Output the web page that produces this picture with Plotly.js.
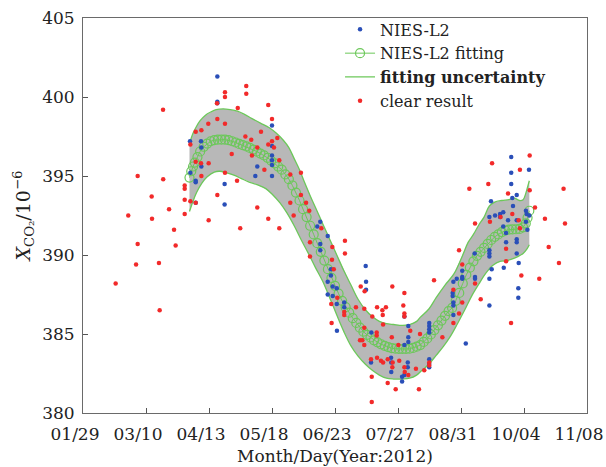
<!DOCTYPE html>
<html><head><meta charset="utf-8">
<script src="https://cdn.plot.ly/plotly-3.0.1.min.js"></script>
<style>html,body{margin:0;padding:0;background:#fff}#chart{width:606px;height:467px}</style>
</head><body><div id="chart"></div>
<script>
// x values are day-of-year 2012
const tickLabels = ['01/29','03/10','04/13','05/18','06/23','07/27','08/31','10/04','11/08'];

const redDay = [74.1,121.0,121.0,109.0,109.0,104.5,116.2,104.7,99.6,109.0,95.7,92.5,89.5,120.5,123.8,112.8,95.5,99.8,92.5,109.0,95.7,115.8,59.8,74.2,86.3,86.3,67.7,104.7,86.3,89.5,92.5,77.5,54.5,67.9,86.3,99.8,117.6,80.3,59.8,81.2,58.9,71.8,47.4,72.2,
133.4,135.5,129.3,138.5,133.4,135.5,136.6,127.2,124.2,139.6,131.2,145.8,151.8,151.8,145.8,154.7,156.5,127.2,133.4,139.6,147.7,163.3,169.5,176.6,176.6,156.9,156.9,169.3,
170.3,185.5,203.3,210.1,187.7,172.3,168.9,182.8,187.5,194.7,199.7,197.7,209.5,176.2,176.2,197.9,210.1,210.1,169.1,192.0,198.1,187.5,213.4,194.5,194.5,185.1,203.0,187.5,186.4,206.7,194.7,191.3,196.9,198.1,200.7,203.5,203.3,207.2,210.1,210.3,216.6,191.7,200.7,205.2,218.3,191.7,212.3,
218.9,224.1,224.1,221.3,226.8,231.5,237.7,240.9,242.7,237.7,249.9,253.1,242.7,240.9,249.9,258.3,264.3,274.5,267.4,267.4,276.0,270.2,286.1,297.2,291.4,289.3,300.6,280.7,259.5,275.2,246.7,257.4,299.8,268.5,280.7,283.7,270.9,275.2];
const redVal = [399.2,400.7,400.2,400.3,400.0,399.6,399.3,398.6,398.3,398.3,397.9,397.8,397.0,397.5,397.3,396.4,395.8,395.8,395.9,395.2,395.0,394.7,395.0,394.8,394.4,394.2,393.7,393.8,393.5,393.4,393.3,392.9,392.5,392.3,392.6,392.2,391.7,391.6,390.7,390.6,389.4,389.5,388.2,386.5,
399.5,398.6,397.8,397.4,397.0,397.2,396.8,396.8,396.3,396.0,395.4,395.1,395.2,393.8,393.3,393.3,392.8,393.0,392.3,391.7,392.5,391.7,390.5,390.9,390.1,390.8,389.9,389.7,
389.1,388.0,388.0,387.6,387.7,387.3,386.9,386.7,386.6,386.7,386.7,386.5,386.8,386.4,386.2,386.2,386.3,386.1,385.7,386.1,385.6,385.4,385.2,385.1,384.9,384.6,384.8,384.3,384.6,384.3,383.5,383.4,383.3,383.2,383.4,383.2,382.9,383.3,382.9,382.6,382.8,382.3,381.9,381.5,381.5,380.7,382.4,
385.0,383.2,383.0,382.7,388.4,384.8,385.7,386.3,387.0,387.8,388.2,387.2,389.4,390.3,392.0,392.1,392.4,392.2,390.4,389.6,388.7,385.7,388.5,389.5,390.5,392.3,392.0,396.3,395.8,395.4,394.2,394.5,394.2,393.9,394.1,393.0,392.6,391.7];

const blueDay = [104.7,104.7,104.7,89.3,95.5,95.7,95.7,89.5,92.5,92.5,108.8,92.5,108.8,135.5,135.5,135.5,135.5,135.5,127.2,126.1,135.5,162.7,161.0,166.9,162.7,162.7,
188.3,168.7,168.7,166.9,169.7,172.0,188.5,188.5,166.9,169.7,172.0,176.2,176.2,172.1,191.5,210.1,212.3,212.3,212.3,210.1,191.3,202.6,202.7,212.0,212.0,202.7,208.8,208.8,210.1,
224.1,224.1,224.1,224.1,224.1,224.1,224.1,244.7,237.7,237.7,237.7,237.3,237.3,237.7,239.6,242.7,242.7,242.7,249.7,249.9,249.9,258.0,258.0,258.0,258.0,258.0,259.3,267.4,267.4,266.1,273.4,273.4,274.5,274.3,274.3,273.4,
258.0,264.0,268.5,270.3,280.3,270.3,270.3,273.4,270.9,258.9,271.3,264.0,261.2,265.8,278.6,279.0,280.5,278.6,273.4,265.8,279.4];
const blueVal = [401.3,399.7,399.6,397.2,397.2,396.8,395.6,395.2,394.7,394.6,394.5,393.3,393.2,398.2,396.9,396.3,396.0,395.7,395.6,395.0,395.0,392.1,391.8,391.2,390.7,390.3,
389.3,389.1,388.7,388.3,388.0,387.9,388.3,387.8,387.5,387.4,386.9,387.0,386.7,385.2,385.1,386.1,385.5,384.8,384.5,384.3,383.2,383.5,383.2,383.2,382.9,382.6,382.3,382.0,382.4,
385.7,385.5,385.3,385.1,383.4,383.1,382.9,384.4,387.0,386.8,386.2,387.6,387.4,388.3,388.5,389.0,388.6,388.5,390.1,388.6,388.5,390.3,390.1,389.9,388.5,386.8,389.1,390.8,391.4,389.2,391.0,390.8,389.5,387.9,387.3,390.1,
392.4,392.4,392.2,396.2,395.4,395.2,394.5,393.8,393.6,393.4,393.1,392.6,392.5,392.7,392.8,392.6,392.5,392.1,392.2,391.8,391.6];

const fitDay = [89,90,91,92,93.5,95,97,99,101,103,105,107,109,111,113,115,117,119,121,123,125,127,129,131,133,135,137,139,141,143,145,147,149,151,153,155,157,159,161,163,165,167,169,171,173,175,177,179,181,183,185,187,189,191,193,195,197,199,201,203,205,207,209,211,213,215,217,219,221,223,225,227,229,231,233,235,237,239,241,243,245,247,249,251,253,255,257,259,261,263,265,267,269,271,273,275,277,278.5,279.5,280.5];
const fitVal = [394.9,395.3,395.6,395.85,396.2,396.55,396.85,397.05,397.2,397.27,397.3,397.3,397.3,397.27,397.2,397.12,397.03,396.95,396.87,396.78,396.67,396.55,396.42,396.3,396.15,395.98,395.8,395.6,395.4,395.1,394.8,394.4,393.95,393.45,392.9,392.4,391.85,391.3,390.75,390.2,389.65,389.1,388.55,388.05,387.55,387.1,386.7,386.35,386.0,385.7,385.4,385.15,384.95,384.78,384.6,384.47,384.35,384.25,384.17,384.1,384.07,384.05,384.05,384.05,384.07,384.12,384.2,384.3,384.5,384.72,384.97,385.25,385.55,385.85,386.15,386.45,386.65,387.1,387.6,388.2,388.75,389.2,389.6,389.95,390.2,390.45,390.7,390.95,391.15,391.3,391.45,391.55,391.6,391.62,391.63,391.65,391.75,392.0,392.35,392.8];

const upperDay = [89,91,93,95,98,101,104,108,112,116,120,124,129,134,138,142,145,148,151,154,157,160,164,168,172,176,180,184,188,192,196,200,204,209,213,217,219,224,228,233,238,243,246,249,252,255,258,261,265,269,272,275,277,278.5,279.5,280.5];
const upperVal = [397.05,397.7,398.15,398.5,398.85,399.05,399.2,399.25,399.2,399.1,398.9,398.65,398.35,398.05,397.7,397.25,396.8,396.1,395.4,394.55,393.75,393.0,392.0,391.0,390.0,389.0,388.1,387.2,386.55,386.1,385.8,385.65,385.6,385.55,385.6,385.8,386.05,386.6,387.3,388.1,388.8,390.0,390.8,391.3,391.9,392.4,393.1,393.35,393.45,393.5,393.6,393.45,393.5,393.9,394.3,394.7];

const lowerDay = [89,91,93,96,99,103,106,110,114,118,122,127,132,136,140,144,148,152,156,160,164,168,172,176,180,184,188,192,196,200,204,209,213,217,220,224,228,232,236,240,244,248,252,256,260,264,268,271,274,277,279,280.5];
const lowerVal = [392.75,393.4,393.95,394.55,394.95,395.25,395.3,395.2,395.05,394.85,394.65,394.45,394.2,393.8,393.3,392.65,391.85,390.95,390.1,389.2,388.35,387.3,386.2,385.15,384.25,383.6,383.1,382.7,382.4,382.2,382.15,382.15,382.2,382.4,382.7,383.1,383.65,384.2,384.85,385.65,386.5,387.4,388.15,388.85,389.35,389.6,389.65,389.75,389.9,390.1,390.35,390.65];

const GREEN = '#6cc85a';
const FONT = 'DejaVu Serif';
const x0 = 29, x1 = 313;
const tickVals = tickLabels.map((_, i) => x0 + i * (x1 - x0) / (tickLabels.length - 1));

const traces = [
  {x: upperDay.concat(lowerDay.slice().reverse()), y: upperVal.concat(lowerVal.slice().reverse()),
   mode: 'lines', fill: 'toself', fillcolor: '#b8b8b8', line: {width: 0}, showlegend: false, hoverinfo: 'skip'},
  {x: upperDay, y: upperVal, mode: 'lines', line: {color: GREEN, width: 1.3, shape: 'spline'},
   name: '<b>fitting uncertainty</b>', legendrank: 3},
  {x: lowerDay, y: lowerVal, mode: 'lines', line: {color: GREEN, width: 1.3, shape: 'spline'}, showlegend: false},
  {x: fitDay, y: fitVal, mode: 'lines+markers', line: {color: GREEN, width: 1},
   marker: {symbol: 'circle-open', size: 9, color: GREEN, line: {width: 1.2}}, name: 'NIES-L2 fitting', legendrank: 2},
  {x: blueDay, y: blueVal, mode: 'markers', marker: {size: 4.5, color: '#2a4fb8'}, name: 'NIES-L2', legendrank: 1},
  {x: redDay, y: redVal, mode: 'markers', marker: {size: 4.5, color: '#f22a2a'}, name: 'clear result', legendrank: 4}
];

const axisCommon = {
  showline: true, linecolor: '#6a6a6a', linewidth: 1, mirror: true,
  ticks: 'inside', ticklen: 5, tickcolor: '#555', showgrid: false, zeroline: false,
  tickfont: {family: FONT, size: 17, color: '#222'}
};

const layout = {
  width: 606, height: 467,
  margin: {l: 83, r: 19, t: 18, b: 54},
  paper_bgcolor: '#fff', plot_bgcolor: '#fff',
  showlegend: true,
  legend: {x: 0.51, y: 1.014, xanchor: 'left', yanchor: 'top', bgcolor: 'rgba(0,0,0,0)',
           font: {family: FONT, size: 16, color: '#222'}, tracegroupgap: 0},
  xaxis: Object.assign({}, axisCommon, {
    range: [x0, x1], tickvals: tickVals, ticktext: tickLabels, ticklabelstandoff: 6,
    ticklabelshift: -8, ticklabeloverflow: 'allow',
    title: {text: 'Month/Day(Year:2012)', font: {family: FONT, size: 17, color: '#222'}, standoff: 6}
  }),
  yaxis: Object.assign({}, axisCommon, {
    range: [380, 405], tickvals: [380,385,390,395,400,405], ticklabelstandoff: 4,
    title: {text: '<i>X</i><sub>CO₂</sub>/10<sup>−6</sup>', font: {family: FONT, size: 19, color: '#222'}, standoff: 6}
  })
};

Plotly.newPlot('chart', traces, layout, {displayModeBar: false, staticPlot: true});
</script></body></html>
